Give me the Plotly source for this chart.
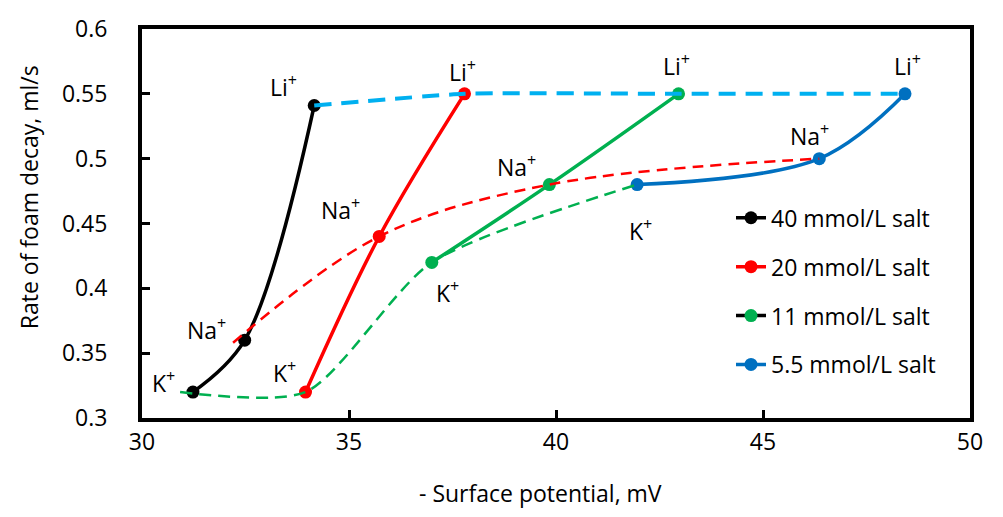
import plotly.graph_objects as go

# ---- data ----
ions = ["K<sup>+</sup>", "Na<sup>+</sup>", "Li<sup>+</sup>"]

x_40 = [31.23, 32.48, 34.16]
y_40 = [0.32, 0.36, 0.541]

x_20 = [33.95, 35.73, 37.79]
y_20 = [0.32, 0.44, 0.55]

x_11 = [37.0, 39.84, 42.96]
y_11 = [0.42, 0.48, 0.55]

x_55 = [41.96, 46.36, 48.43]
y_55 = [0.48, 0.50, 0.55]

# trend (dashed) curves by cation
x_li_trend = [34.16, 37.79, 42.96, 48.43]
y_li_trend = [0.541, 0.55, 0.55, 0.55]
x_na_trend = [32.2, 35.73, 39.84, 46.36]
y_na_trend = [0.358, 0.44, 0.48, 0.50]
x_k_trend = [30.92, 33.95, 37.0, 41.96]
y_k_trend = [0.32, 0.32, 0.42, 0.48]

series_names = ["40 mmol/L salt", "20 mmol/L salt", "11 mmol/L salt", "5.5 mmol/L salt"]
x_ticks = [30, 35, 40, 45, 50]
y_ticks = [0.3, 0.35, 0.4, 0.45, 0.5, 0.55, 0.6]

BLACK = "#000000"
RED = "#FF0000"
GREEN = "#00B050"
BLUE = "#0070C0"
LBLUE = "#00B0F0"
FONT = "Open Sans"
FS = 23

fig = go.Figure()

series = [
    (x_40, y_40, series_names[0], BLACK, BLACK),
    (x_20, y_20, series_names[1], RED, RED),
    (x_11, y_11, series_names[2], GREEN, GREEN),
    (x_55, y_55, series_names[3], BLUE, BLUE),
]
for i, (xs, ys, name, lc, mc) in enumerate(series):
    fig.add_trace(go.Scatter(
        x=xs, y=ys, name=name, mode="lines+markers",
        line=dict(color=lc, width=3.5, shape="spline", smoothing=1),
        marker=dict(color=mc, size=13),
        showlegend=(i != 2), legendgroup=f"g{i}", legendrank=i + 1,
    ))

# legend-only entry for 11 mmol/L (black line, green marker as in original)
fig.add_trace(go.Scatter(
    x=[None], y=[None], name=series_names[2], mode="lines+markers",
    line=dict(color=BLACK, width=3.5), marker=dict(color=GREEN, size=13),
    showlegend=True, legendgroup="g2", legendrank=3,
))

# dashed trend curves (drawn on top)
fig.add_trace(go.Scatter(x=x_k_trend, y=y_k_trend, mode="lines", showlegend=False,
                         line=dict(color=GREEN, width=2.5, dash="12px,7px", shape="spline", smoothing=0.7)))
fig.add_trace(go.Scatter(x=x_na_trend, y=y_na_trend, mode="lines", showlegend=False,
                         line=dict(color=RED, width=2.5, dash="11px,7px", shape="spline", smoothing=1)))
fig.add_trace(go.Scatter(x=x_li_trend, y=y_li_trend, mode="lines", showlegend=False,
                         line=dict(color=LBLUE, width=4, dash="17px,10px", shape="spline", smoothing=0.5)))

# ion labels, offset from each point in pixels
label_shifts = {
    0: [(-29, 10), (-38, 11), (-31, 20)],
    1: [(-21, 20), (-39, 27), (-2, 23)],
    2: [(16, -30), (-33, 19), (-2, 29)],
    3: [(3, -45), (-10, 24), (2, 29)],
}
for i, (xs, ys, name, lc, mc) in enumerate(series):
    for j in range(3):
        dx, dy = label_shifts[i][j]
        fig.add_annotation(x=xs[j], y=ys[j], text=ions[j], showarrow=False,
                           xshift=dx, yshift=dy,
                           font=dict(family=FONT, size=FS, color="#000000"))

# axis titles
fig.add_annotation(xref="paper", yref="paper", x=(540 - 142) / 828, y=-(494 - 418) / 393,
                   text="- Surface potential, mV", showarrow=False,
                   xanchor="center", yanchor="middle",
                   font=dict(family=FONT, size=FS, color="#000000"))
fig.add_annotation(xref="paper", yref="paper", x=-(142 - 29) / 828, y=(418 - 195) / 393,
                   text="Rate of foam decay, ml/s", showarrow=False, textangle=-90,
                   xanchor="center", yanchor="middle",
                   font=dict(family=FONT, size=FS, color="#000000"))

axis_common = dict(
    showline=True, linecolor="#000000", linewidth=4, mirror=True,
    showgrid=False, zeroline=False,
    ticks="inside", ticklen=8, tickwidth=3, tickcolor="#000000",
    tickfont=dict(family=FONT, size=FS, color="#000000"),
)

fig.update_layout(
    width=1003, height=517,
    margin=dict(l=142, r=33, t=25, b=99),
    paper_bgcolor="white", plot_bgcolor="white",
    xaxis=dict(range=[30, 50], tickvals=x_ticks, ticktext=[str(v) for v in x_ticks],
               ticklabelstandoff=0, **axis_common),
    yaxis=dict(range=[0.3, 0.6], tickvals=y_ticks, ticktext=[f"{v:g}" for v in y_ticks],
               ticklabelstandoff=26, **axis_common),
    legend=dict(x=(731 - 142) / 828, y=(418 - 194) / 393, xanchor="left", yanchor="top",
                bgcolor="rgba(0,0,0,0)", font=dict(family=FONT, size=FS, color="#000000"),
                tracegroupgap=16, traceorder="grouped"),
    showlegend=True,
)

fig.write_html("out.html")
